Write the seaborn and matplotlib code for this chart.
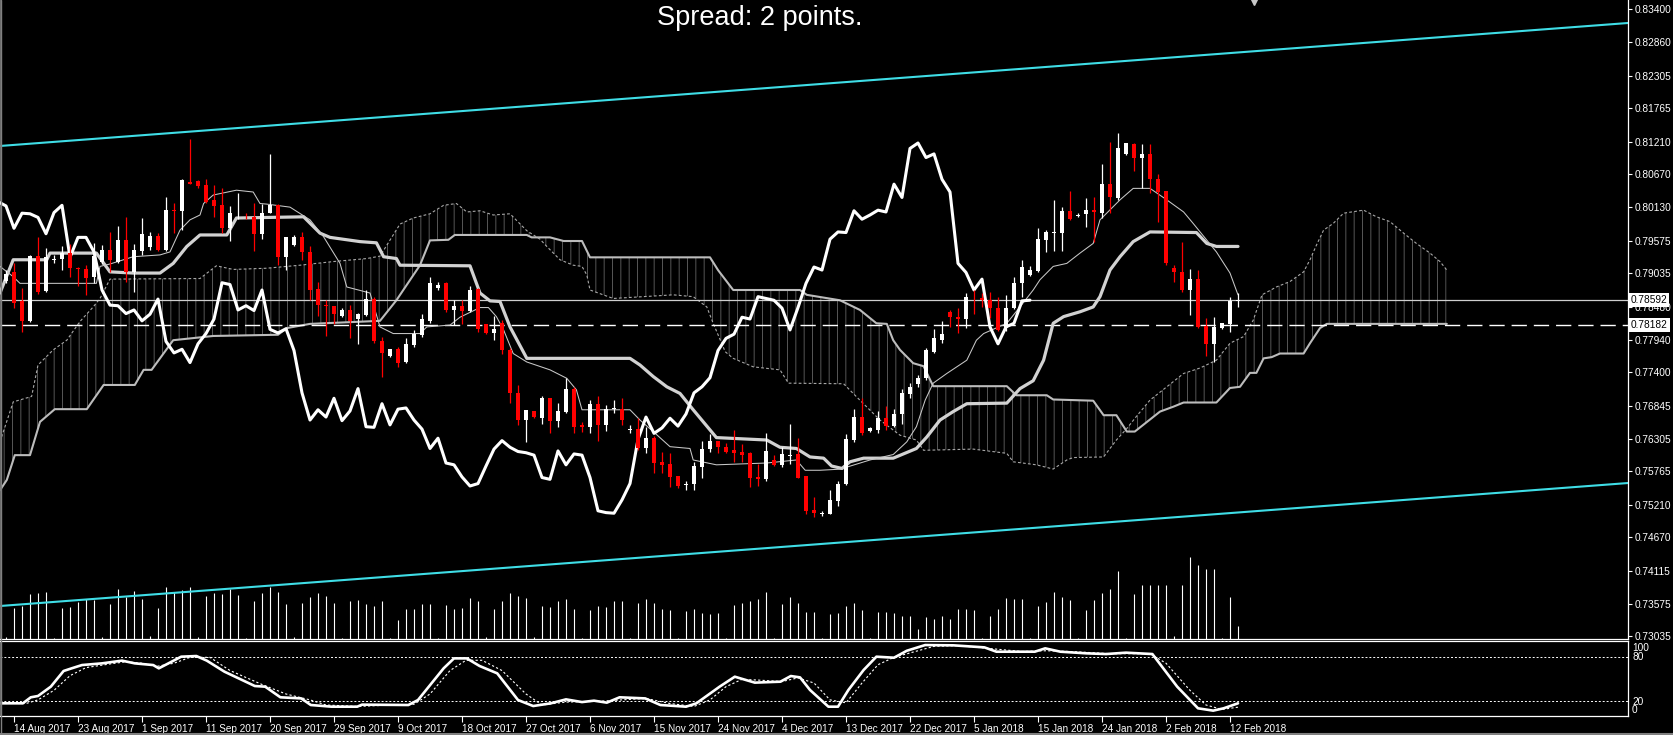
import numpy as np
import matplotlib
matplotlib.use("Agg")
import matplotlib.pyplot as plt
import matplotlib.transforms as mtransforms
from matplotlib.patches import Polygon
from matplotlib.lines import Line2D
import seaborn as sns

# daily candles, bar 0 = Sun 13 Aug 2017 (Sunday bars included)
candle_open = [0.7891, 0.7905, 0.7857, 0.7825, 0.7932, 0.7875, 0.7926, 0.7927, 0.7937, 0.7912,
               0.7910, 0.7897, 0.7923, 0.7942, 0.7923, 0.7959, 0.7906, 0.7941, 0.7947, 0.7965,
               0.7942, 0.8008, 0.8007, 0.8055, 0.8057, 0.8050, 0.8024, 0.8016, 0.7978, 0.8001,
               0.7997, 0.7997, 0.7969, 0.8004, 0.8016, 0.7930, 0.7950, 0.7963, 0.7939, 0.7877,
               0.7851, 0.7850, 0.7833, 0.7843, 0.7828, 0.7835, 0.7861, 0.7792, 0.7767, 0.7778,
               0.7757, 0.7785, 0.7802, 0.7825, 0.7880, 0.7888, 0.7843, 0.7850, 0.7842, 0.7877,
               0.7820, 0.7805, 0.7821, 0.7776, 0.7706, 0.7661, 0.7676, 0.7664, 0.7697, 0.7660,
               0.7675, 0.7713, 0.7653, 0.7650, 0.7688, 0.7653, 0.7680, 0.7680, 0.7645, 0.7647,
               0.7614, 0.7632, 0.7592, 0.7589, 0.7568, 0.7554, 0.7555, 0.7584, 0.7613, 0.7627,
               0.7617, 0.7611, 0.7609, 0.7607, 0.7567, 0.7563, 0.7595, 0.7587, 0.7602, 0.7605,
               0.7568, 0.7512, 0.7506, 0.7506, 0.7528, 0.7555, 0.7628, 0.7666, 0.7643, 0.7645,
               0.7664, 0.7651, 0.7671, 0.7704, 0.7721, 0.7730, 0.7774, 0.7793, 0.7840, 0.7832,
               0.7828, 0.7863, 0.7863, 0.7859, 0.7846, 0.7813, 0.7847, 0.7887, 0.7901, 0.7908,
               0.7959, 0.7970, 0.7971, 0.8007, 0.7999, 0.8002, 0.8008, 0.8004, 0.8051, 0.8028,
               0.8101, 0.8117, 0.8095, 0.8101, 0.8059, 0.8040, 0.7912, 0.7905, 0.7876, 0.7894,
               0.7817, 0.7787, 0.7813, 0.7820, 0.7858]
candle_high = [0.7909, 0.7920, 0.7879, 0.7934, 0.7963, 0.7945, 0.7934, 0.7949, 0.7952, 0.7914,
               0.7917, 0.7953, 0.7950, 0.7972, 0.7982, 0.7996, 0.7952, 0.7995, 0.7972, 0.7970,
               0.8029, 0.8020, 0.8059, 0.8125, 0.8058, 0.8059, 0.8050, 0.8044, 0.8015, 0.8037,
               0.8003, 0.8020, 0.8019, 0.8101, 0.8019, 0.7964, 0.7967, 0.7972, 0.7949, 0.7890,
               0.7859, 0.7850, 0.7846, 0.7851, 0.7838, 0.7876, 0.7865, 0.7798, 0.7778, 0.7782,
               0.7796, 0.7810, 0.7836, 0.7897, 0.7890, 0.7890, 0.7859, 0.7859, 0.7883, 0.7879,
               0.7820, 0.7833, 0.7826, 0.7780, 0.7719, 0.7678, 0.7676, 0.7700, 0.7697, 0.7689,
               0.7730, 0.7715, 0.7657, 0.7694, 0.7701, 0.7686, 0.7694, 0.7697, 0.7653, 0.7664,
               0.7650, 0.7635, 0.7609, 0.7607, 0.7568, 0.7561, 0.7592, 0.7627, 0.7638, 0.7627,
               0.7623, 0.7645, 0.7621, 0.7609, 0.7589, 0.7639, 0.7603, 0.7616, 0.7654, 0.7632,
               0.7568, 0.7534, 0.7511, 0.7545, 0.7561, 0.7638, 0.7680, 0.7698, 0.7650, 0.7676,
               0.7684, 0.7680, 0.7712, 0.7722, 0.7735, 0.7780, 0.7811, 0.7824, 0.7843, 0.7846,
               0.7871, 0.7876, 0.7871, 0.7872, 0.7865, 0.7868, 0.7897, 0.7926, 0.7916, 0.7978,
               0.7975, 0.8024, 0.8013, 0.8040, 0.8004, 0.8028, 0.8029, 0.8085, 0.8120, 0.8136,
               0.8119, 0.8119, 0.8117, 0.8117, 0.8068, 0.8040, 0.7917, 0.7956, 0.7910, 0.7909,
               0.7829, 0.7832, 0.7821, 0.7864, 0.7871]
candle_low = [0.7888, 0.7846, 0.7807, 0.7823, 0.7869, 0.7873, 0.7920, 0.7909, 0.7897, 0.7883,
              0.7867, 0.7887, 0.7919, 0.7906, 0.7920, 0.7890, 0.7872, 0.7934, 0.7942, 0.7941,
              0.7941, 0.7970, 0.7975, 0.8051, 0.8044, 0.8020, 0.7997, 0.7971, 0.7957, 0.7993,
              0.7993, 0.7941, 0.7961, 0.8003, 0.7917, 0.7909, 0.7949, 0.7926, 0.7859, 0.7833,
              0.7800, 0.7820, 0.7832, 0.7796, 0.7787, 0.7833, 0.7788, 0.7733, 0.7766, 0.7748,
              0.7756, 0.7782, 0.7798, 0.7822, 0.7876, 0.7840, 0.7818, 0.7820, 0.7840, 0.7807,
              0.7803, 0.7794, 0.7770, 0.7690, 0.7653, 0.7625, 0.7664, 0.7654, 0.7640, 0.7649,
              0.7673, 0.7639, 0.7642, 0.7639, 0.7627, 0.7643, 0.7672, 0.7653, 0.7640, 0.7611,
              0.7607, 0.7574, 0.7573, 0.7551, 0.7548, 0.7545, 0.7546, 0.7565, 0.7609, 0.7607,
              0.7606, 0.7592, 0.7592, 0.7551, 0.7552, 0.7561, 0.7585, 0.7584, 0.7589, 0.7565,
              0.7506, 0.7501, 0.7502, 0.7505, 0.7519, 0.7553, 0.7625, 0.7636, 0.7642, 0.7640,
              0.7644, 0.7650, 0.7654, 0.7698, 0.7715, 0.7728, 0.7772, 0.7788, 0.7815, 0.7805,
              0.7814, 0.7836, 0.7848, 0.7829, 0.7809, 0.7809, 0.7844, 0.7865, 0.7899, 0.7906,
              0.7938, 0.7941, 0.7941, 0.7992, 0.7996, 0.7980, 0.7956, 0.7995, 0.8004, 0.8025,
              0.8099, 0.8073, 0.8044, 0.8037, 0.7989, 0.7917, 0.7890, 0.7872, 0.7835, 0.7814,
              0.7767, 0.7757, 0.7811, 0.7807, 0.7848]
candle_close = [0.7902, 0.7855, 0.7825, 0.7932, 0.7873, 0.7930, 0.7927, 0.7937, 0.7912, 0.7911,
                0.7896, 0.7932, 0.7942, 0.7926, 0.7959, 0.7906, 0.7942, 0.7969, 0.7965, 0.7942,
                0.8008, 0.8007, 0.8058, 0.8052, 0.8048, 0.8022, 0.8015, 0.7978, 0.8003, 0.8002,
                0.7996, 0.7969, 0.8004, 0.8016, 0.7930, 0.7963, 0.7963, 0.7939, 0.7876, 0.7851,
                0.7850, 0.7837, 0.7843, 0.7825, 0.7836, 0.7861, 0.7791, 0.7772, 0.7778, 0.7756,
                0.7787, 0.7804, 0.7828, 0.7888, 0.7885, 0.7843, 0.7850, 0.7842, 0.7876, 0.7811,
                0.7805, 0.7812, 0.7776, 0.7706, 0.7661, 0.7678, 0.7666, 0.7697, 0.7660, 0.7676,
                0.7713, 0.7650, 0.7649, 0.7688, 0.7653, 0.7679, 0.7681, 0.7661, 0.7646, 0.7614,
                0.7631, 0.7590, 0.7587, 0.7567, 0.7552, 0.7556, 0.7585, 0.7613, 0.7627, 0.7616,
                0.7609, 0.7607, 0.7603, 0.7566, 0.7563, 0.7610, 0.7587, 0.7605, 0.7603, 0.7566,
                0.7511, 0.7508, 0.7507, 0.7529, 0.7556, 0.7629, 0.7666, 0.7639, 0.7648, 0.7664,
                0.7651, 0.7671, 0.7706, 0.7716, 0.7731, 0.7776, 0.7796, 0.7803, 0.7831, 0.7828,
                0.7865, 0.7862, 0.7859, 0.7846, 0.7810, 0.7847, 0.7887, 0.7914, 0.7909, 0.7960,
                0.7972, 0.7971, 0.8007, 0.7993, 0.8000, 0.8008, 0.8005, 0.8051, 0.8029, 0.8110,
                0.8119, 0.8095, 0.8101, 0.8059, 0.8038, 0.7920, 0.7905, 0.7876, 0.7894, 0.7815,
                0.7787, 0.7815, 0.7821, 0.7858, 0.78592]

# tick volume, thousands
volume_k = [2.3, 30.7, 33.3, 45.0, 46.3, 47.0, 1.3, 31.0, 32.3, 37.3,
            39.7, 39.0, 2.0, 35.0, 50.0, 42.3, 48.0, 40.0, 3.0, 31.0,
            51.7, 47.3, 49.0, 51.7, 1.7, 43.0, 46.3, 45.0, 49.7, 44.3,
            0.7, 38.0, 46.3, 52.3, 47.0, 35.0, 1.7, 36.3, 42.3, 46.3,
            43.0, 36.3, 1.0, 38.0, 39.0, 35.0, 33.0, 38.0, 0.7, 19.0,
            30.0, 30.0, 35.0, 35.0, 0.7, 34.0, 30.0, 31.0, 41.0, 38.0,
            2.0, 30.0, 38.0, 46.3, 43.0, 41.0, 1.7, 33.0, 31.7, 38.0,
            40.0, 30.0, 0.7, 29.0, 33.0, 31.7, 38.0, 38.0, 1.5, 36.0,
            40.0, 36.0, 30.0, 29.0, 1.5, 28.0, 30.0, 26.0, 25.0, 26.0,
            1.5, 34.0, 36.0, 38.0, 40.0, 47.0, 1.5, 35.0, 42.0, 36.0,
            27.3, 27.3, 0.7, 25.0, 25.7, 33.0, 35.7, 29.0, 0.7, 26.7,
            26.7, 25.7, 23.3, 23.3, 9.7, 21.7, 20.0, 23.0, 19.7, 30.0,
            30.0, 29.0, 0.7, 23.0, 30.0, 41.3, 39.7, 39.7, 0.7, 33.0,
            36.7, 46.7, 42.3, 39.0, 0.7, 29.0, 39.0, 45.7, 50.0, 68.0,
            0.7, 45.0, 54.0, 54.0, 54.0, 54.0, 3.0, 54.0, 82.0, 74.0,
            70.0, 70.0, 0.7, 42.3, 13.0]

# ichimoku lines (vertex bar positions / prices)
tenkan_x = [-0.75, 0.9, 1.75, 11.3, 11.75, 13.0, 15.9, 19.25, 20.5, 21.75, 23.0, 24.25, 24.7, 25.9,
            28.8, 30.9, 31.75, 32.6, 35.5, 38.0, 39.7, 41.75, 42.6, 45.5, 46.75, 48.4, 51.75, 52.6,
            55.5, 56.75, 59.25, 60.3, 61.3, 62.2, 63.4, 65.1, 68.0, 70.1, 71.3, 72.0, 78.0, 79.25,
            80.9, 83.0, 85.5, 85.9, 88.8, 95.1, 98.8, 99.9, 101.75, 104.5, 105.3, 108.0, 110.9,
            112.6, 113.8, 114.9, 115.9, 117.6, 120.1, 121.3, 122.2, 125.1, 126.75, 128.4, 129.25,
            130.9, 132.6, 134.25, 135.9, 136.75, 139.25, 140.9, 143.0, 145.1, 147.2, 148.4, 151.3,
            153.0, 154.0]
tenkan_y = [0.7915, 0.7898, 0.7887, 0.7887, 0.7915, 0.7919, 0.7931, 0.7934, 0.7939, 0.7975, 0.7992,
            0.8000, 0.8019, 0.8033, 0.8041, 0.8038, 0.8019, 0.8018, 0.8013, 0.7992, 0.7964, 0.7920,
            0.7881, 0.7871, 0.7815, 0.7804, 0.7804, 0.7815, 0.7818, 0.7831, 0.7847, 0.7847, 0.7832,
            0.7810, 0.7771, 0.7757, 0.7744, 0.7730, 0.7711, 0.7678, 0.7678, 0.7661, 0.7642, 0.7617,
            0.7614, 0.7595, 0.7587, 0.7590, 0.7595, 0.7578, 0.7578, 0.7580, 0.7584, 0.7595, 0.7604,
            0.7625, 0.7650, 0.7694, 0.7722, 0.7738, 0.7760, 0.7793, 0.7804, 0.7821, 0.7848, 0.7876,
            0.7893, 0.7915, 0.7920, 0.7937, 0.7953, 0.7992, 0.8025, 0.8044, 0.8044, 0.8025, 0.8005,
            0.7986, 0.7939, 0.7904, 0.7868]
kijun_x = [-0.75, 0.9, 5.1, 5.5, 11.3, 13.0, 15.9, 19.25, 20.9, 22.6, 24.25, 27.6, 28.8, 37.2,
           39.25, 40.5, 44.25, 46.3, 47.2, 48.8, 49.25, 58.0, 59.25, 60.5, 61.75, 63.0, 65.1, 78.0,
           79.25, 80.9, 82.6, 84.25, 85.9, 88.8, 95.1, 96.75, 98.8, 100.5, 102.2, 103.2, 104.5,
           105.5, 107.2, 110.9, 113.8, 115.1, 116.75, 118.4, 120.1, 125.1, 126.75, 128.4, 129.7,
           130.9, 132.2, 134.25, 135.9, 136.75, 138.0, 139.25, 140.9, 143.0, 148.8, 150.1, 151.3,
           154.0]
kijun_y = [0.7871, 0.7926, 0.7926, 0.7937, 0.7937, 0.7906, 0.7904, 0.7904, 0.7920, 0.7948, 0.7967,
           0.7967, 0.7995, 0.7997, 0.7970, 0.7963, 0.7956, 0.7954, 0.7931, 0.7928, 0.7917, 0.7916,
           0.7871, 0.7858, 0.7857, 0.7815, 0.7763, 0.7763, 0.7752, 0.7733, 0.7716, 0.7705, 0.7678,
           0.7632, 0.7628, 0.7616, 0.7614, 0.7600, 0.7598, 0.7585, 0.7581, 0.7592, 0.7598, 0.7598,
           0.7614, 0.7633, 0.7661, 0.7675, 0.7688, 0.7689, 0.7713, 0.7726, 0.7760, 0.7821, 0.7832,
           0.7840, 0.7848, 0.7865, 0.7909, 0.7931, 0.7956, 0.7972, 0.7971, 0.7953, 0.7948, 0.7948]
span_a_x = [-0.55, 0.9, 3.2, 4.0, 5.9, 7.6, 9.25, 10.9, 11.75, 13.0, 24.25, 26.3, 28.4, 32.6,
            36.75, 40.9, 45.1, 46.75, 48.4, 49.25, 50.9, 53.0, 54.7, 56.3, 57.6, 59.25, 60.9, 63.0,
            65.1, 66.75, 67.6, 69.25, 70.9, 72.0, 72.6, 73.0, 75.9, 83.4, 85.9, 87.6, 88.4, 89.9,
            90.9, 93.4, 96.75, 97.8, 104.7, 106.5, 109.25, 111.75, 113.8, 114.7, 120.9, 125.1,
            125.9, 128.8, 130.9, 132.6, 133.4, 137.2, 138.8, 140.1, 141.3, 143.0, 145.1, 147.2,
            149.25, 151.3, 153.0, 154.7, 155.9, 157.0, 158.8, 160.5, 162.2, 163.0, 163.8, 164.7,
            165.9, 167.2, 169.7, 171.3, 173.0, 174.7, 176.3, 178.0, 179.25, 180.1]
span_a_y = [0.7633, 0.7691, 0.7700, 0.7752, 0.7777, 0.7793, 0.7824, 0.7848, 0.7862, 0.7894, 0.7895,
            0.7916, 0.7910, 0.7912, 0.7917, 0.7923, 0.7928, 0.7932, 0.7967, 0.7985, 0.7995, 0.8002,
            0.8016, 0.8019, 0.8005, 0.8007, 0.8000, 0.8002, 0.7974, 0.7960, 0.7948, 0.7926, 0.7917,
            0.7915, 0.7901, 0.7876, 0.7862, 0.7868, 0.7865, 0.7848, 0.7821, 0.7774, 0.7763, 0.7749,
            0.7744, 0.7722, 0.7721, 0.7697, 0.7661, 0.7636, 0.7628, 0.7611, 0.7613, 0.7606, 0.7592,
            0.7587, 0.7580, 0.7595, 0.7599, 0.7600, 0.7628, 0.7647, 0.7667, 0.7694, 0.7716, 0.7738,
            0.7747, 0.7760, 0.7788, 0.7799, 0.7826, 0.7868, 0.7881, 0.7890, 0.7906, 0.7926, 0.7950,
            0.7975, 0.7986, 0.8003, 0.8008, 0.7997, 0.7989, 0.7970, 0.7953, 0.7937, 0.7923, 0.7909]
span_b_x = [-0.75, 0.1, 1.1, 3.0, 4.25, 6.1, 10.1, 12.2, 16.1, 17.2, 18.2, 20.9, 25.9, 34.0, 35.1,
            38.0, 46.75, 48.8, 51.75, 53.0, 55.3, 56.1, 65.1, 65.7, 68.0, 69.7, 72.0, 73.0, 88.0,
            89.0, 90.9, 99.25, 100.1, 104.25, 106.75, 108.8, 110.1, 110.9, 111.75, 113.4, 114.7,
            115.9, 125.1, 126.3, 130.1, 130.9, 135.9, 137.2, 138.8, 140.1, 141.1, 144.25, 145.9,
            147.2, 151.3, 153.0, 154.25, 155.5, 156.3, 157.2, 158.2, 159.25, 162.2, 163.0, 164.25,
            165.1, 180.1]
span_b_y = [0.7545, 0.7562, 0.7603, 0.7603, 0.7658, 0.7679, 0.7679, 0.7719, 0.7719, 0.7744, 0.7744,
            0.7793, 0.7800, 0.7802, 0.7813, 0.7820, 0.7825, 0.7859, 0.7917, 0.7958, 0.7959, 0.7967,
            0.7967, 0.7963, 0.7963, 0.7957, 0.7957, 0.7930, 0.7930, 0.7909, 0.7876, 0.7876, 0.7868,
            0.7859, 0.7843, 0.7821, 0.7820, 0.7793, 0.7777, 0.7755, 0.7750, 0.7717, 0.7717, 0.7702,
            0.7702, 0.7695, 0.7693, 0.7669, 0.7669, 0.7642, 0.7642, 0.7675, 0.7683, 0.7690, 0.7690,
            0.7714, 0.7716, 0.7739, 0.7739, 0.7763, 0.7765, 0.7771, 0.7771, 0.7788, 0.7813, 0.7820,
            0.7820]
chikou_shift = 26

# channel trend lines
channel_x = [-0.75, 202.75]
channel_upper = [0.81141, 0.83174]
channel_lower = [0.73536, 0.75569]

bid_price = 0.78592
level_price = 0.78182

# stochastic
stoch_k_x = [-0.75, 2.1, 3.1, 4.0, 5.6, 7.2, 8.2, 9.5, 12.0, 14.5, 16.1, 18.4, 19.1, 20.3, 21.9,
             23.8, 25.1, 27.3, 31.1, 32.4, 34.3, 36.9, 38.1, 40.7, 43.9, 44.5, 50.3, 51.5, 54.7,
             56.0, 57.6, 59.2, 61.4, 64.0, 65.9, 68.1, 70.0, 72.0, 73.5, 75.1, 76.7, 79.9, 81.8,
             85.0, 86.3, 89.2, 91.1, 93.6, 96.8, 98.1, 99.25, 100.5, 102.8, 104.0, 105.3, 107.2,
             108.8, 111.0, 112.6, 114.9, 118.4, 122.3, 123.8, 128.6, 129.9, 131.8, 135.0, 137.5,
             140.0, 143.3, 146.4, 149.0, 150.9, 152.2, 154.0]
stoch_k_y = [17.3, 17.3, 25.5, 27.3, 40.0, 61.4, 65.0, 69.5, 71.8, 75.5, 71.8, 69.5, 65.0, 71.8,
             80.9, 81.8, 75.5, 60.5, 40.9, 40.0, 25.5, 24.0, 15.0, 12.7, 12.7, 15.5, 15.0, 21.8,
             65.0, 78.6, 78.6, 68.2, 58.2, 21.8, 13.6, 17.3, 22.7, 19.0, 20.9, 18.2, 25.5, 24.0,
             15.0, 12.7, 17.3, 40.0, 53.6, 45.5, 46.8, 54.5, 52.7, 35.5, 12.7, 12.7, 35.5, 62.7,
             80.9, 79.5, 89.0, 96.8, 96.4, 93.6, 87.7, 87.7, 92.3, 87.7, 85.5, 84.5, 86.4, 84.5,
             40.0, 10.5, 7.3, 10.5, 17.3]
stoch_d_x = [-0.75, 2.5, 4.0, 6.0, 8.0, 10.0, 13.0, 15.0, 17.0, 19.0, 21.0, 23.0, 25.5, 28.0, 32.0,
             35.0, 38.0, 40.0, 44.0, 46.0, 51.0, 53.0, 55.5, 57.5, 59.5, 62.0, 65.0, 67.0, 70.0, 74.0,
             77.0, 80.0, 83.0, 86.0, 88.0, 90.0, 92.0, 94.0, 97.0, 99.0, 101.0, 103.0, 105.0, 107.0,
             109.0, 111.0, 113.0, 116.0, 119.0, 123.0, 127.0, 130.0, 133.0, 138.0, 143.0, 145.0,
             148.0, 150.0, 152.0, 154.0]
stoch_d_y = [17.3, 17.0, 22.0, 35.0, 55.0, 66.0, 71.0, 74.0, 72.0, 68.0, 72.0, 80.0, 80.0, 62.0,
             43.0, 30.0, 22.0, 15.0, 13.0, 14.0, 16.0, 30.0, 62.0, 76.0, 76.0, 62.0, 30.0, 15.0,
             19.0, 20.0, 22.0, 24.0, 17.0, 13.0, 22.0, 40.0, 50.0, 49.0, 47.0, 52.0, 45.0, 22.0,
             18.0, 45.0, 70.0, 80.0, 86.0, 95.0, 96.0, 92.0, 88.0, 89.0, 88.0, 85.0, 85.0, 72.0,
             35.0, 15.0, 9.0, 12.0]

price_ticks = [0.83400, 0.82860, 0.82305, 0.81765, 0.81210, 0.80670, 0.80130, 0.79575, 0.79035,
               0.78480, 0.77940, 0.77400, 0.76845, 0.76305, 0.75765, 0.75210, 0.74670, 0.74115,
               0.73575, 0.73035]
date_bars = [1, 9, 17, 25, 33, 41, 49, 57, 65, 73, 81, 89, 97, 105, 113, 121, 129, 137, 145, 153]
date_labels = ["14 Aug 2017", "23 Aug 2017", "1 Sep 2017", "11 Sep 2017", "20 Sep 2017",
               "29 Sep 2017", "9 Oct 2017", "18 Oct 2017", "27 Oct 2017", "6 Nov 2017",
               "15 Nov 2017", "24 Nov 2017", "4 Dec 2017", "13 Dec 2017", "22 Dec 2017",
               "5 Jan 2018", "15 Jan 2018", "24 Jan 2018", "2 Feb 2018", "12 Feb 2018"]
stoch_levels = [80, 20]


sns.set_theme(style="dark", rc={"axes.facecolor": "black", "figure.facecolor": "black",
                                "savefig.facecolor": "black", "text.color": "white",
                                "axes.edgecolor": "white", "xtick.color": "white",
                                "ytick.color": "white", "hatch.linewidth": 0.7})
plt.rcParams["font.family"] = ["Liberation Sans", "DejaVu Sans"]

W, H = 1673, 735
fig = plt.figure(figsize=(W / 100, H / 100), dpi=100)
main_rect = [0, 96 / H, 1628 / W, 639 / H]
stoch_rect = [0, 19 / H, 1628 / W, 75 / H]
x_lim = (-0.75, 202.75)
price_lim = (0.729905, 0.835542)

bars = np.arange(len(candle_close))
o = np.array(candle_open)
c = np.array(candle_close)

# volume under everything
axv = fig.add_axes(main_rect)
axv.vlines(bars, 0, volume_k, colors="white", lw=0.8)
axv.set_xlim(x_lim)
axv.set_ylim(0, 639)
axv.axis("off")

ax = fig.add_axes(main_rect)
ax.set_facecolor("none")

# cloud
cloud_pts = np.column_stack([np.r_[span_a_x, span_b_x[::-1]], np.r_[span_a_y, span_b_y[::-1]]])
ax.add_patch(Polygon(cloud_pts, closed=True, facecolor="none", edgecolor="#575757",
                     lw=0, hatch="||", zorder=1))

line_kw = dict(ax=ax, estimator=None, sort=False)
sns.lineplot(x=span_b_x, y=span_b_y, color="#bcbcbc", lw=1.5, zorder=2, **line_kw)
sns.lineplot(x=span_a_x, y=span_a_y, color="#a8a8a8", lw=0.8, ls=(0, (2.5, 2)), zorder=2, **line_kw)
sns.lineplot(x=channel_x, y=channel_upper, color="#3fdde6", lw=1.5, zorder=2, **line_kw)
sns.lineplot(x=channel_x, y=channel_lower, color="#3fdde6", lw=1.5, zorder=2, **line_kw)
sns.lineplot(x=kijun_x, y=kijun_y, color="#d2d2d2", lw=2.3, zorder=3, **line_kw)
sns.lineplot(x=tenkan_x, y=tenkan_y, color="#c8c8c8", lw=0.75, zorder=3, **line_kw)
sns.lineplot(x=bars[chikou_shift - 1:] - chikou_shift, y=c[chikou_shift - 1:],
             color="white", lw=2.2, zorder=3, **line_kw)

ax.axhline(bid_price, color="#cfcfcf", lw=0.9, zorder=2)
ax.axhline(level_price, color="white", lw=1.0, ls=(0, (11, 5)), zorder=2)

# candles
colors = np.where(c >= o, "white", "#ff0000")
ax.vlines(bars, candle_low, candle_high, colors=colors, lw=0.9, zorder=4)
body_h = np.maximum(np.abs(c - o), 0.00012)
ax.bar(bars, body_h, bottom=np.minimum(o, c), width=0.62, color=colors, lw=0, zorder=5)

ax.set_xlim(x_lim)
ax.set_ylim(price_lim)
ax.set_xlabel("")
ax.set_ylabel("")
ax.set_xticks([])
ax.yaxis.tick_right()
ax.set_yticks(price_ticks)
ax.set_yticklabels([f"{v:.5f}" for v in price_ticks])
ax.tick_params(axis="y", right=True, left=False, direction="out", length=3, width=0.8,
               colors="white", labelsize=7.3, pad=2)
ax.spines["top"].set_visible(False)
ax.spines["left"].set_color("#7a7a7a")
for s in ("right", "bottom"):
    ax.spines[s].set_color("white")
    ax.spines[s].set_linewidth(0.9)

yblend = mtransforms.blended_transform_factory(ax.transAxes, ax.transData)
for p in (bid_price, level_price):
    ax.text(1.0 + 3 / 1628, p, f"{p:.5f}", transform=yblend, ha="left", va="center",
            fontsize=7.3, color="black", zorder=10, clip_on=False,
            bbox=dict(boxstyle="square,pad=0.18", fc="white", ec="none"))

ax.plot([156], [price_lim[1]], marker="v", ms=7, color="#c8c8c8", clip_on=False, zorder=10)

# stochastic panel
axs = fig.add_axes(stoch_rect)
axs.set_facecolor("black")
for lv in stoch_levels:
    axs.axhline(lv, color="white", lw=0.7, ls=(0, (2, 2)))
sns.lineplot(x=stoch_d_x, y=stoch_d_y, ax=axs, color="white", lw=0.8, ls=(0, (2, 2)),
             estimator=None, sort=False)
sns.lineplot(x=stoch_k_x, y=stoch_k_y, ax=axs, color="white", lw=1.9,
             estimator=None, sort=False)
axs.set_xlim(x_lim)
axs.set_ylim(0, 102.3)
axs.set_xlabel("")
axs.set_ylabel("")
axs.set_yticks([])
axs.set_xticks(date_bars)
axs.set_xticklabels(date_labels)
axs.tick_params(axis="x", bottom=True, direction="out", length=4, width=0.8, colors="white",
                labelsize=7.2, pad=1.5)
for lbl in axs.get_xticklabels():
    lbl.set_ha("left")
axs.spines["left"].set_color("#7a7a7a")
for s in ("top", "right", "bottom"):
    axs.spines[s].set_color("white")
    axs.spines[s].set_linewidth(0.9)

sblend = mtransforms.blended_transform_factory(axs.transAxes, axs.transData)
for val, txt in [(92.8, "100"), (80.5, "80"), (19.1, "20"), (8.2, "0")]:
    axs.text(1.0 + 4 / 1628, val, txt, transform=sblend, ha="left", va="center",
             fontsize=7.3, color="white", clip_on=False)

fig.text(760 / W, 1 - 18 / H, "Spread: 2 points.", ha="center", va="center",
         fontsize=19.5, color="white")
fig.add_artist(Line2D([0, 1], [1.5 / H, 1.5 / H], transform=fig.transFigure,
                      color="#808080", lw=1.5))
fig.add_artist(Line2D([0.5 / W, 0.5 / W], [0, 1], transform=fig.transFigure,
                      color="#808080", lw=1.0))

fig.savefig("out.png", dpi=100, facecolor="black")
